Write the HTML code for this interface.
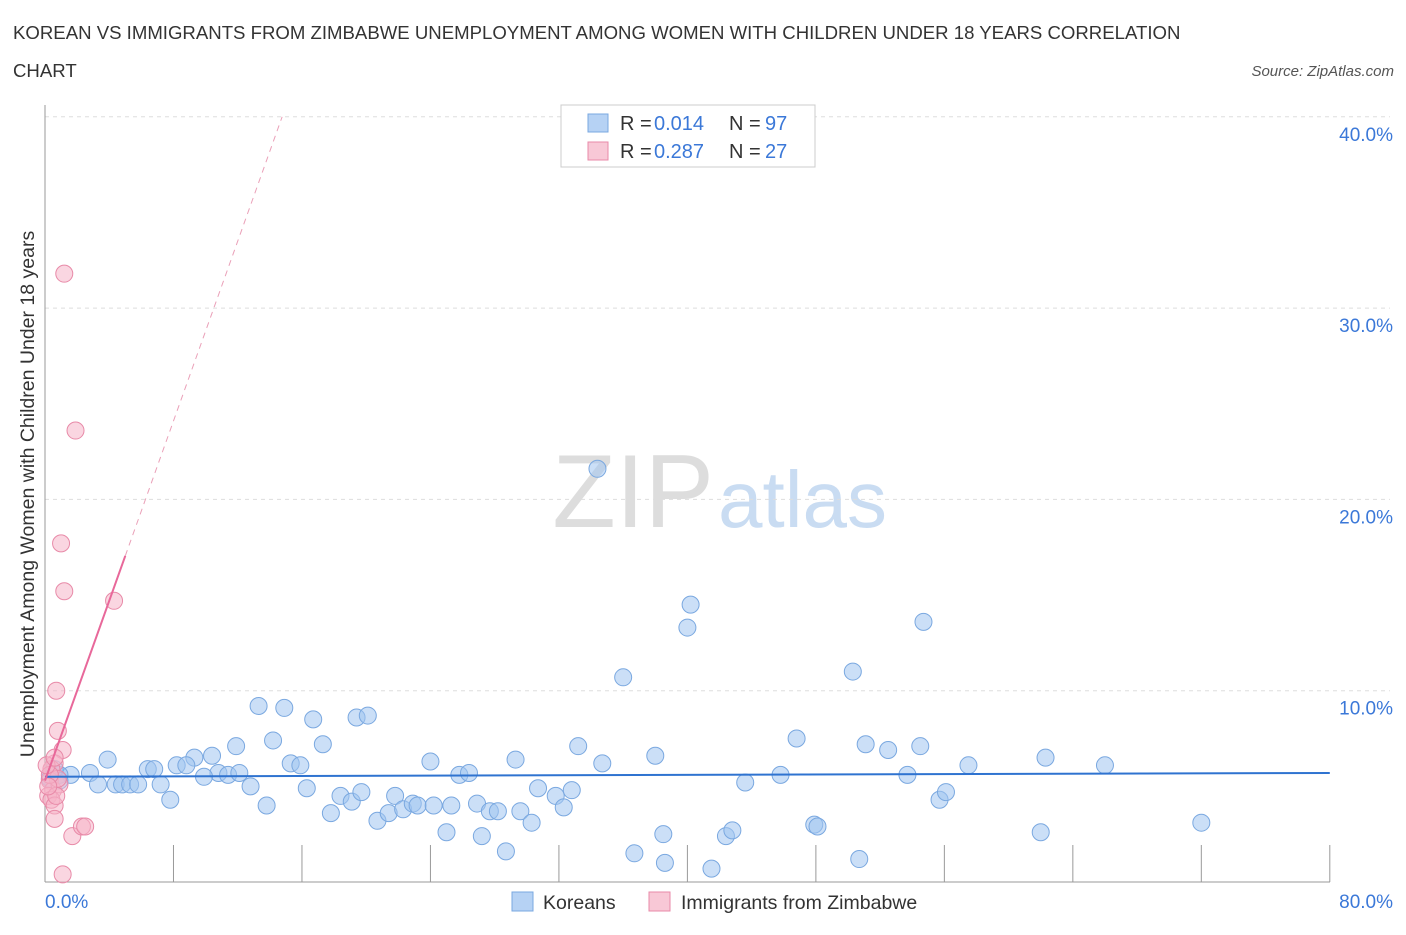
<!DOCTYPE html>
<html><head><meta charset="utf-8"><style>
body{margin:0;background:#fff;font-family:"Liberation Sans",sans-serif;}
svg text{font-family:"Liberation Sans",sans-serif;}
</style></head><body>
<svg id="chart" width="1406" height="930" xmlns="http://www.w3.org/2000/svg">
<text x="13" y="39" font-size="18.6" fill="#333">KOREAN VS IMMIGRANTS FROM ZIMBABWE UNEMPLOYMENT AMONG WOMEN WITH CHILDREN UNDER 18 YEARS CORRELATION</text>
<text x="13" y="77" font-size="18.6" fill="#333">CHART</text>
<text x="1394" y="76" font-size="15" fill="#555" font-style="italic" text-anchor="end">Source: ZipAtlas.com</text>
<text x="714" y="527" font-size="104" text-anchor="end" fill="#ddd" font-family="Liberation Serif">ZIP</text>
<text x="718" y="527" font-size="80" fill="#c9dcf2">atlas</text>
<g id="grid"></g>
<g id="axes"></g>
<g id="marks"></g>
<text transform="translate(34,494) rotate(-90)" font-size="19.5" fill="#333" text-anchor="middle">Unemployment Among Women with Children Under 18 years</text>
<text x="45" y="908" font-size="19" fill="#3b78d8">0.0%</text>
<text x="1393" y="908" font-size="19" fill="#3b78d8" text-anchor="end">80.0%</text>
<g>
<rect x="561" y="105" width="254" height="62" fill="#fff" stroke="#ccc"/>
<rect x="588" y="114" width="20" height="18" fill="#b6d2f4" stroke="#7aa8e0"/>
<rect x="588" y="142" width="20" height="18" fill="#f8c8d6" stroke="#e88aa8"/>
<text x="620" y="130" font-size="20" fill="#333">R = </text><text x="654" y="130" font-size="20" fill="#3b78d8">0.014</text>
<text x="729" y="130" font-size="20" fill="#333">N = </text><text x="765" y="130" font-size="20" fill="#3b78d8">97</text>
<text x="620" y="158" font-size="20" fill="#333">R = </text><text x="654" y="158" font-size="20" fill="#3b78d8">0.287</text>
<text x="729" y="158" font-size="20" fill="#333">N = </text><text x="765" y="158" font-size="20" fill="#3b78d8">27</text>
</g>
<g>
<rect x="512" y="892" width="21" height="19" fill="#b6d2f4" stroke="#7aa8e0"/>
<text x="543" y="909" font-size="19.5" fill="#333">Koreans</text>
<rect x="649" y="892" width="21" height="19" fill="#f8c8d6" stroke="#e88aa8"/>
<text x="681" y="909" font-size="19.5" fill="#333">Immigrants from Zimbabwe</text>
</g>
</svg>
<script>
const yTicks=[10,20,30,40];
const yTickLabels=["10.0%","20.0%","30.0%","40.0%"];
const xTicks=[0,8,16,24,32,40,48,56,64,72,80];
const korX=[34.4,40.2,40.0,36.0,54.7,50.3,13.3,14.9,16.7,19.4,20.1,14.2,17.3,11.9,3.9,9.3,10.4,8.2,8.8,15.3,15.9,6.4,6.8,10.8,11.4,12.1,9.9,2.8,1.6,0.9,0.3,0.6,0.9,3.3,4.4,4.8,5.3,5.8,7.2,12.8,16.3,7.8,13.8,17.8,18.4,19.1,19.7,20.7,21.4,21.8,22.3,22.9,23.2,24.2,25.3,25.0,26.9,27.2,27.7,28.2,28.7,29.6,30.3,30.7,31.8,32.3,32.8,24.0,25.8,26.4,29.3,33.2,34.7,38.0,38.5,36.7,38.6,41.5,42.4,42.8,43.6,45.8,46.8,47.9,48.1,51.1,52.5,54.5,53.7,55.7,56.1,57.5,62.3,62.0,66.0,72.0,50.7];
const korY=[21.6,14.5,13.3,10.7,13.6,11.0,9.2,9.1,8.5,8.6,8.7,7.4,7.2,7.1,6.4,6.5,6.6,6.1,6.1,6.2,6.1,5.9,5.9,5.7,5.6,5.7,5.5,5.7,5.6,5.6,5.4,5.9,5.3,5.1,5.1,5.1,5.1,5.1,5.1,5.0,4.9,4.3,4.0,3.6,4.5,4.2,4.7,3.2,3.6,4.5,3.8,4.1,4.0,4.0,4.0,2.6,4.1,2.4,3.7,3.7,1.6,3.7,3.1,4.9,4.5,3.9,4.8,6.3,5.6,5.7,6.4,7.1,6.2,6.6,2.5,1.5,1.0,0.7,2.4,2.7,5.2,5.6,7.5,3.0,2.9,7.2,6.9,7.1,5.6,4.3,4.7,6.1,6.5,2.6,6.1,3.1,1.2];
const zimX=[1.2,1.9,1.0,1.2,4.3,0.7,0.8,1.1,0.6,0.4,0.3,0.5,0.2,0.4,0.6,0.6,1.7,2.3,2.5,1.1,0.9,0.8,0.3,0.1,0.6,0.7,0.2];
const zimY=[31.8,23.6,17.7,15.2,14.7,10.0,7.9,6.9,6.2,5.9,5.3,4.8,4.5,4.3,4.0,3.3,2.4,2.9,2.9,0.4,5.1,5.4,5.6,6.1,6.5,4.5,5.0];
const korTrend=[5.5,5.7];
const zimTrend=[5.3,2.35];

const NS="http://www.w3.org/2000/svg";
const sx=v=>45+v*16.06;
const sy=v=>882-v*19.13;
function mk(tag,attrs,parent){const e=document.createElementNS(NS,tag);for(const k in attrs)e.setAttribute(k,attrs[k]);parent.appendChild(e);return e;}
const grid=document.getElementById('grid'),axes=document.getElementById('axes'),marks=document.getElementById('marks');
yTicks.forEach((t,i)=>{
 const l=mk('line',{x1:45,x2:1390,y1:sy(t),y2:sy(t),stroke:'#ddd','stroke-dasharray':'4,4'},grid);
 
 
 const tx=mk('text',{x:1393,y:sy(t)+24,'font-size':19,fill:'#3b78d8','text-anchor':'end'},grid);
 tx.textContent=yTickLabels[i];
 
 
});
const ya=mk('line',{x1:45,x2:45,y1:105,y2:882,stroke:'#999'},axes);


const xa=mk('line',{x1:45,x2:1330,y1:882,y2:882,stroke:'#999'},axes);


xTicks.forEach(t=>{
 const l=mk('line',{x1:sx(t),x2:sx(t),y1:845,y2:882,stroke:'#999'},axes);
 
 
});
korX.forEach((x,i)=>{
 const c=mk('circle',{cx:sx(x),cy:sy(korY[i]),r:8.5,fill:'rgba(160,196,240,0.55)',stroke:'#7aa8e0','stroke-width':1},marks);
 
 
});
zimX.forEach((x,i)=>{
 const c=mk('circle',{cx:sx(x),cy:sy(zimY[i]),r:8.5,fill:'rgba(246,180,200,0.55)',stroke:'#e88aa8','stroke-width':1},marks);
 
 
});
const kt=mk('line',{x1:sx(0),x2:sx(80),y1:sy(korTrend[0]),y2:sy(korTrend[1]),stroke:'#2f73d0','stroke-width':2},marks);


const zEnd=5.0,zDashEnd=(40-zimTrend[0])/zimTrend[1];
const zt=mk('line',{x1:sx(0),x2:sx(zEnd),y1:sy(zimTrend[0]),y2:sy(zimTrend[0]+zimTrend[1]*zEnd),stroke:'#e8689a','stroke-width':2},marks);


const zd=mk('line',{x1:sx(zEnd),x2:sx(zDashEnd),y1:sy(zimTrend[0]+zimTrend[1]*zEnd),y2:sy(40),stroke:'#eaa0b8','stroke-width':1,'stroke-dasharray':'6,5'},marks);


</script>
</body></html>
